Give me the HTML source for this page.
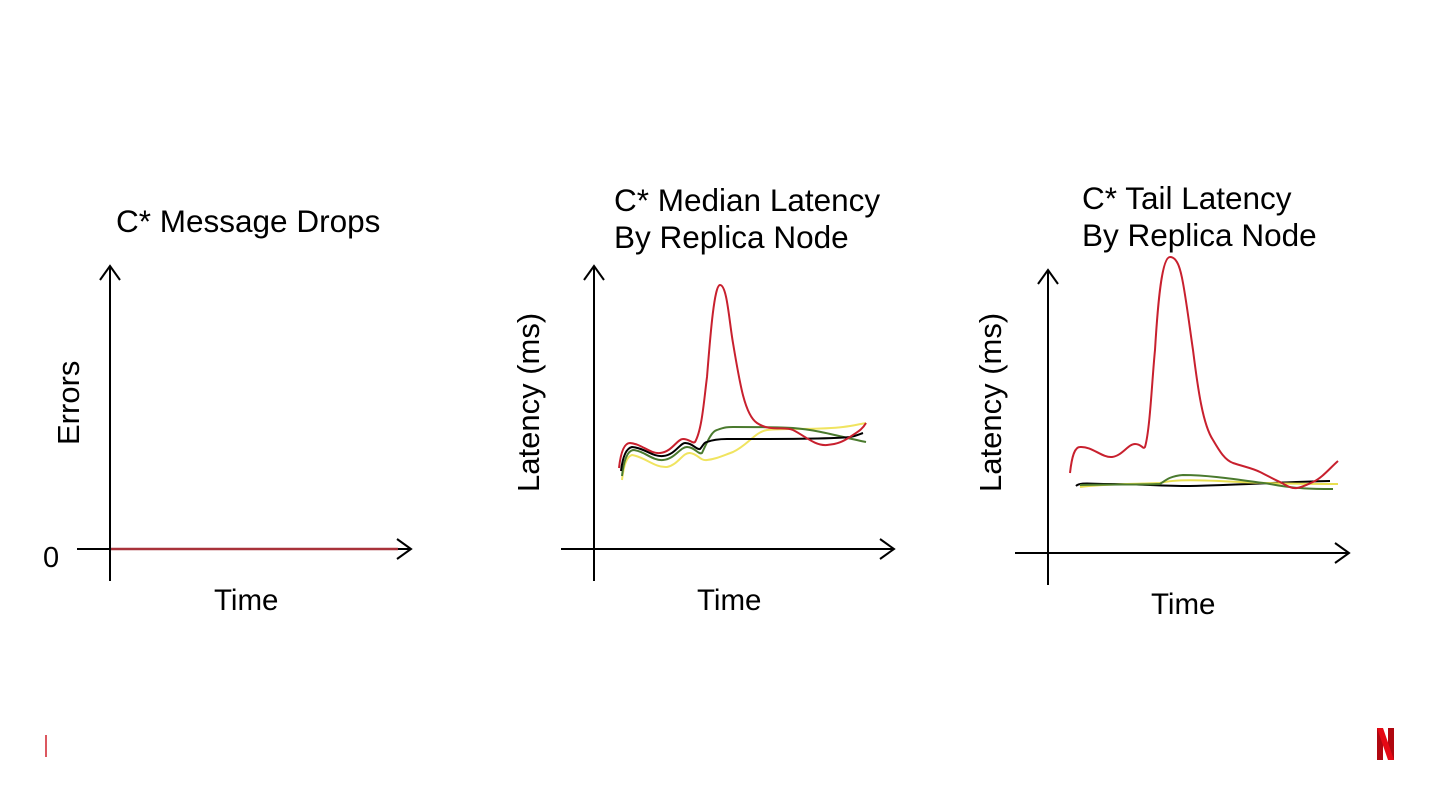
<!DOCTYPE html>
<html><head><meta charset="utf-8"><style>
html,body{margin:0;padding:0;background:#fff;}
svg{display:block;}
text{font-family:"Liberation Sans",sans-serif;fill:#000;}
</style></head><body>
<svg width="1440" height="810" viewBox="0 0 1440 810" xmlns="http://www.w3.org/2000/svg">
<g stroke="#000" stroke-width="2" fill="none">
<line x1="110" y1="266" x2="110" y2="581"/><polyline points="100,280 110,266 120,280"/>
<line x1="77" y1="549" x2="411" y2="549"/><polyline points="397,539 411,549 397,559"/>
<line x1="594" y1="266" x2="594" y2="581"/><polyline points="584,280 594,266 604,280"/>
<line x1="561" y1="549" x2="894" y2="549"/><polyline points="880,539 894,549 880,559"/>
<line x1="1048" y1="270" x2="1048" y2="585"/><polyline points="1038,284 1048,270 1058,284"/>
<line x1="1015" y1="553" x2="1349" y2="553"/><polyline points="1335,543 1349,553 1335,563"/>
</g>
<line x1="111" y1="549" x2="398" y2="549" stroke="#a8323a" stroke-width="2.5"/>
<text x="116" y="232" font-size="31.5">C* Message Drops</text>
<text x="614" y="211" font-size="31.5">C* Median Latency</text>
<text x="614" y="248" font-size="31.5">By Replica Node</text>
<text x="1082" y="209" font-size="31.5">C* Tail Latency</text>
<text x="1082" y="246" font-size="31.5">By Replica Node</text>
<text x="214" y="610" font-size="29.5">Time</text>
<text x="697" y="610" font-size="29.5">Time</text>
<text x="1151" y="614" font-size="29.5">Time</text>
<text x="43" y="567" font-size="29">0</text>
<text transform="translate(79,445) rotate(-90)" font-size="31">Errors</text>
<text transform="translate(539,492) rotate(-90)" font-size="31">Latency (ms)</text>
<text transform="translate(1001,492) rotate(-90)" font-size="31">Latency (ms)</text>
<g fill="none" stroke-width="2" stroke-linejoin="round">
<path stroke="#f0e460" d="M622,480 C624,462 628,456 632,455 C645,457 655,468 667,467 C678,465 683,452 690,453 C698,454 700,461 707,460 C716,459 722,456 733,452 C748,445 755,432 767,430 C790,428 820,430 843,427 C852,426 860,424 866,423"/>
<path stroke="#4a7a2e" d="M622,476 C624,458 628,451 633,450 C645,451 652,461 663,460 C675,459 680,447 687,447 C695,447 698,455 702,453 C708,440 712,431 717,430 C725,427 728,427 733,427 C760,427 780,427 793,428 C820,430 845,438 866,442"/>
<path stroke="#000" d="M621,471 C623,454 627,448 632,447 C645,448 652,457 663,456 C675,455 680,443 685,443 C693,443 696,450 700,449 C703,446 704,442 707,442 C712,440 718,439 727,439 C780,439 830,439 850,437 C856,436 860,434 863,433"/>
<path stroke="#c8202e" d="M619,468 C621,450 625,443 630,443 C642,444 650,454 660,453 C672,452 677,439 683,439 C690,439 692,444 695,442 C702,430 704,400 707,377 C710,340 714,285 720,285 C727,285 729,320 733,343 C740,385 745,415 757,423 C770,432 785,426 793,430 C805,436 815,446 827,445 C840,444 845,440 850,437 C857,432 862,430 866,423"/>
<path stroke="#000" d="M1076,486 C1080,482 1090,484 1110,484 C1140,484 1160,486 1190,486 C1240,485 1280,482 1330,481"/>
<path stroke="#e8df50" d="M1080,487 C1100,484 1140,484 1160,483 C1175,479 1200,480 1240,482 C1280,484 1310,484 1338,484"/>
<path stroke="#4a7a2e" d="M1080,485 C1110,484 1140,485 1160,484 C1166,480 1170,476 1183,475 C1210,475 1240,480 1270,484 C1295,489 1315,489 1333,489"/>
<path stroke="#c8202e" d="M1070,473 C1072,455 1075,447 1080,447 C1092,446 1102,458 1112,457 C1122,456 1128,444 1135,444 C1142,444 1143,450 1145,447 C1150,430 1152,380 1155,350 C1158,300 1162,257 1170,257 C1178,257 1181,272 1183,283 C1187,305 1190,330 1193,350 C1198,390 1203,425 1213,440 C1220,452 1225,460 1233,463 C1245,467 1252,468 1260,472 C1268,476 1275,480 1280,482 C1287,486 1292,489 1297,488 C1303,487 1308,484 1313,482 C1322,478 1330,468 1338,461"/>
</g>
<line x1="46" y1="735" x2="46" y2="757" stroke="#d0202a" stroke-width="1.5"/>
<g>
<rect x="1377" y="728" width="6" height="32" fill="#b00710"/>
<rect x="1388" y="728" width="6" height="32" fill="#b00710"/>
<polygon points="1377,728 1383,728 1394,760 1388,760" fill="#e50914"/>
</g>
</svg>
</body></html>
